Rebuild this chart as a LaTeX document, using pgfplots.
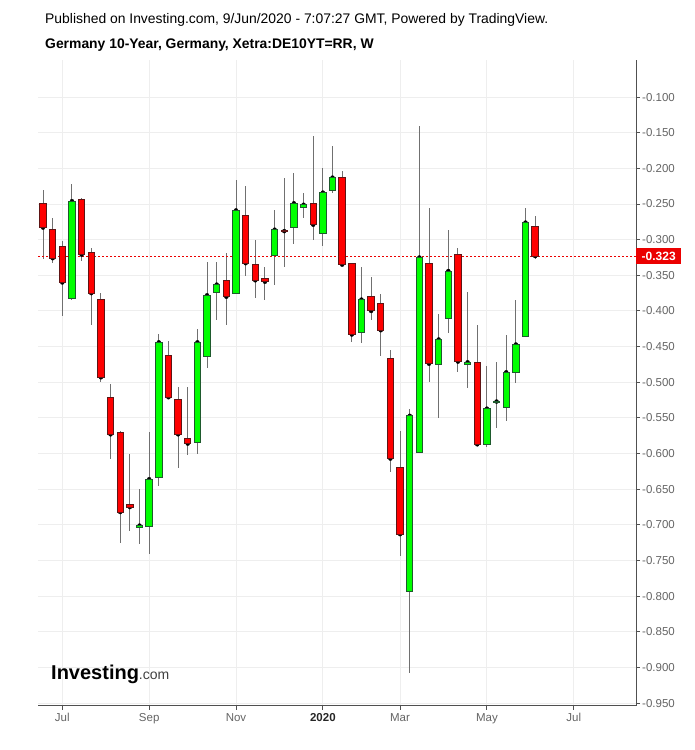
\documentclass[border=0pt]{standalone}
\usepackage{fontspec}
\setmainfont{Liberation Sans}
\usepackage{pgfplots}
\usepackage{pgfplotstable}
\pgfplotsset{compat=1.18}

\definecolor{upfill}{RGB}{0,255,0}
\definecolor{upedge}{RGB}{30,90,45}
\definecolor{dnfill}{RGB}{255,0,0}
\definecolor{dnedge}{RGB}{95,20,20}
\definecolor{wick}{RGB}{112,112,112}
\definecolor{gridc}{RGB}{238,238,238}
\definecolor{axc}{RGB}{80,80,80}
\definecolor{tickc}{RGB}{100,100,100}
\definecolor{lastc}{RGB}{235,0,0}

% weekly candles, i = week index (0 = week of 17 Jun 2019)
\pgfplotstableread{
i o h l c
3 -0.382 -0.222 -0.384 -0.246
10 -0.703 -0.650 -0.727 -0.701
11 -0.702 -0.570 -0.741 -0.636
12 -0.634 -0.432 -0.645 -0.444
16 -0.584 -0.425 -0.600 -0.444
17 -0.464 -0.331 -0.480 -0.378
18 -0.374 -0.331 -0.412 -0.363
20 -0.375 -0.216 -0.375 -0.259
24 -0.322 -0.259 -0.363 -0.286
26 -0.283 -0.207 -0.306 -0.249
27 -0.255 -0.234 -0.269 -0.251
29 -0.291 -0.200 -0.309 -0.234
30 -0.231 -0.168 -0.234 -0.213
33 -0.430 -0.338 -0.445 -0.384
38 -0.794 -0.538 -0.908 -0.547
39 -0.598 -0.141 -0.599 -0.325
41 -0.475 -0.404 -0.550 -0.440
42 -0.411 -0.286 -0.431 -0.344
44 -0.475 -0.374 -0.508 -0.472
46 -0.587 -0.477 -0.591 -0.537
47 -0.529 -0.472 -0.564 -0.527
48 -0.535 -0.433 -0.554 -0.486
49 -0.486 -0.385 -0.501 -0.447
50 -0.436 -0.256 -0.436 -0.276
}\upweeks

\pgfplotstableread{
i o h l c
0 -0.249 -0.230 -0.327 -0.283
1 -0.286 -0.269 -0.333 -0.326
2 -0.309 -0.302 -0.407 -0.360
4 -0.243 -0.242 -0.330 -0.321
5 -0.318 -0.312 -0.419 -0.375
6 -0.384 -0.375 -0.499 -0.493
7 -0.521 -0.503 -0.607 -0.573
8 -0.570 -0.568 -0.725 -0.682
9 -0.671 -0.601 -0.708 -0.675
13 -0.462 -0.442 -0.523 -0.521
14 -0.524 -0.507 -0.620 -0.573
15 -0.579 -0.507 -0.602 -0.586
19 -0.357 -0.319 -0.419 -0.380
21 -0.266 -0.225 -0.351 -0.333
22 -0.335 -0.301 -0.382 -0.357
23 -0.354 -0.338 -0.384 -0.359
25 -0.287 -0.214 -0.339 -0.288
28 -0.249 -0.155 -0.300 -0.279
31 -0.213 -0.203 -0.336 -0.335
32 -0.333 -0.333 -0.444 -0.433
34 -0.379 -0.353 -0.413 -0.400
35 -0.390 -0.376 -0.463 -0.427
36 -0.466 -0.455 -0.626 -0.607
37 -0.619 -0.568 -0.744 -0.713
40 -0.334 -0.256 -0.500 -0.474
43 -0.321 -0.312 -0.486 -0.471
45 -0.472 -0.420 -0.590 -0.587
51 -0.281 -0.267 -0.327 -0.323
}\downweeks

% candle body: from close (the plotted point) to open; \bh is the height in bp
\pgfdeclareplotmark{candle}{%
  \pgfpathrectangle{\pgfqpoint{-3.2bp}{0pt}}{\pgfpoint{6.4bp}{\bh bp}}%
  \pgfusepathqfillstroke}

\begin{document}
\begin{tikzpicture}
\path[use as bounding box] (0,0) rectangle (695bp,750bp);

\node[anchor=base west, inner sep=0, font=\fontsize{13.9bp}{16bp}\selectfont] at (45bp,726bp)
  {Published on Investing.com, 9/Jun/2020 - 7:07:27 GMT, Powered by TradingView.};
\node[anchor=base west, inner sep=0, font=\fontsize{13.9bp}{16bp}\selectfont\bfseries] at (45bp,701bp)
  {Germany 10-Year, Germany, Xetra:DE10YT=RR, W};

\begin{axis}[
    at={(38bp,44bp)}, anchor=south west,
    scale only axis, width=598bp, height=646bp,
    xmin=-0.52, xmax=61.45,
    ymin=-0.954, ymax=-0.048,
    axis x line*=bottom, axis y line*=right,
    axis line style={-, axc, line width=1bp},
    tick style={axc, line width=1bp},
    tick align=outside, major tick length=4bp,
    xtick={2,11,20,29,37,46,55},
    xticklabels={Jul,Sep,Nov,{\color{black!85}\bfseries 2020},Mar,May,Jul},
    ytick={-0.95,-0.9,-0.85,-0.8,-0.75,-0.7,-0.65,-0.6,-0.55,-0.5,-0.45,-0.4,-0.35,-0.3,-0.25,-0.2,-0.15,-0.1},
    yticklabels={-0.950,-0.900,-0.850,-0.800,-0.750,-0.700,-0.650,-0.600,-0.550,-0.500,-0.450,-0.400,-0.350,-0.300,-0.250,-0.200,-0.150,-0.100},
    tick label style={font=\fontsize{11.5bp}{13bp}\selectfont, text=tickc},
    yticklabel style={inner xsep=2bp},
    xmajorgrids, ymajorgrids,
    grid style={gridc, line width=1bp},
]
% wicks
\addplot[only marks, mark=none, forget plot,
    error bars/.cd, y dir=both, y explicit, error mark=none,
    error bar style={wick, line width=1bp}]
  table[x=i, y=c, y error plus expr=\thisrow{h}-\thisrow{c}, y error minus expr=\thisrow{c}-\thisrow{l}] {\upweeks};
\addplot[only marks, mark=none, forget plot,
    error bars/.cd, y dir=both, y explicit, error mark=none,
    error bar style={wick, line width=1bp}]
  table[x=i, y=c, y error plus expr=\thisrow{h}-\thisrow{c}, y error minus expr=\thisrow{c}-\thisrow{l}] {\downweeks};
% bodies (713 bp per unit of yield on this axis)
\addplot[scatter, only marks, mark=candle, line width=1bp,
    scatter/use mapped color={draw=upedge, fill=upfill},
    visualization depends on={713*(\thisrow{o}-\thisrow{c}) \as \bh}]
  table[x=i, y=c] {\upweeks};
\addplot[scatter, only marks, mark=candle, line width=1bp,
    scatter/use mapped color={draw=dnedge, fill=dnfill},
    visualization depends on={713*(\thisrow{o}-\thisrow{c}) \as \bh}]
  table[x=i, y=c] {\downweeks};
% last price line
\addplot[lastc, line width=1bp, dash pattern=on 2bp off 2bp] coordinates {(-0.52,-0.323) (61.45,-0.323)};
\coordinate (lastp) at (axis cs:61.45,-0.323);
\end{axis}

\node[fill=lastc, text=white, anchor=west, inner xsep=5.5bp, inner ysep=0pt, minimum height=16.5bp,
      font=\fontsize{12bp}{13bp}\selectfont\bfseries] at (lastp) {-0.323};

\node[anchor=base west, inner sep=0] at (51bp,70bp)
  {\fontsize{20bp}{20bp}\selectfont\bfseries Investing\fontsize{14bp}{14bp}\selectfont\mdseries\color{black!75}.com};
\end{tikzpicture}
\end{document}
